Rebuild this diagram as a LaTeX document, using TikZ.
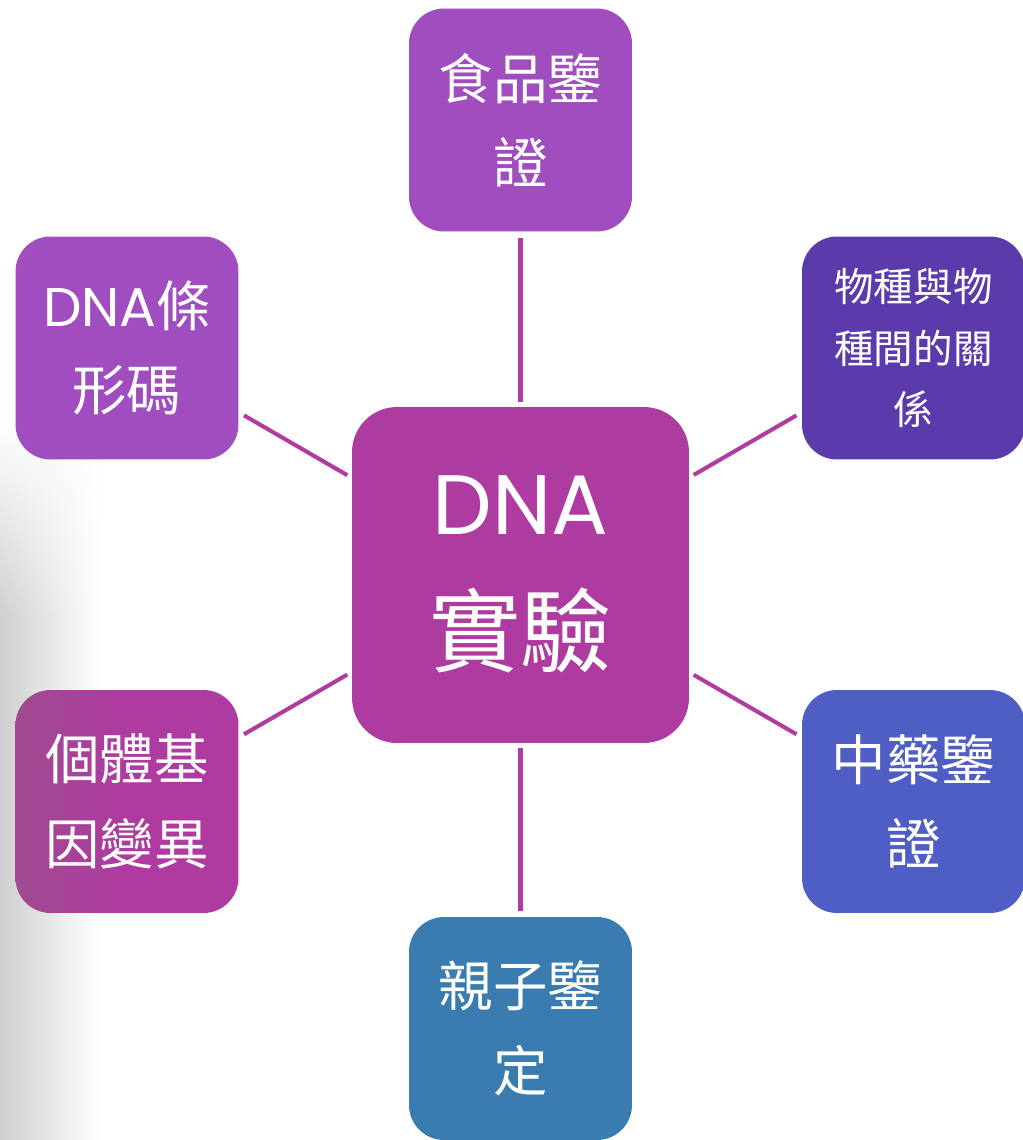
\documentclass[tikz,border=0pt]{standalone}
\usepackage{fontspec}
\setmainfont{Noto Sans CJK TC}
\newfontfamily\latinfont{Poppins}
\usetikzlibrary{fadings}
\definecolor{cTop}{RGB}{159,77,191}
\definecolor{cUL}{RGB}{159,77,191}
\definecolor{cUR}{RGB}{91,58,171}
\definecolor{cMid}{RGB}{174,59,160}
\definecolor{cLL}{RGB}{175,58,160}
\definecolor{cLLl}{RGB}{160,74,144}
\definecolor{cLR}{RGB}{79,94,196}
\definecolor{cBot}{RGB}{58,123,176}
\definecolor{cLine}{RGB}{176,60,160}
\tikzset{
  leaf/.style={rounded corners=0.7cm, minimum width=4.46cm, minimum height=4.46cm,
    text=white, align=center, inner sep=0pt, font=\fontsize{31}{48}\selectfont},
  hub/.style={rounded corners=0.9cm, minimum width=6.74cm, minimum height=6.72cm,
    text=white, align=center, inner sep=0pt, fill=cMid, font=\fontsize{52}{71}\selectfont},
  link/.style={draw=cLine, line width=2.3pt, shorten <=0.1cm, shorten >=0.12cm}
}
\begin{document}
\begin{tikzpicture}[x=0.02cm,y=-0.02cm]
\useasboundingbox (0,0) rectangle (1023,1140);
\clip (0,0) rectangle (1023,1140);
\fill[white] (0,0) rectangle (1023,1140);
% gray side band
\shade[left color=black!19, right color=white, path fading=north] (0,420) rectangle (100,620);
\shade[left color=black!19, right color=white] (0,620) rectangle (100,1140);

\node[hub] (mid) at (520.5,575) {\raisebox{0.18cm}{\begin{tabular}{@{}c@{}}{\latinfont\fontsize{48}{71}\selectfont DNA}\\[4pt]實驗\end{tabular}}};
\node[leaf, fill=cTop] (top) at (520.5,120) {食品鑒\\證};
\node[leaf, fill=cUL] (ul) at (127,348) {{\latinfont DNA}條\\形碼};
\node[leaf, fill=cUR, font=\fontsize{22.5}{35}\selectfont] (ur) at (913.5,348) {物種與物\\種間的關\\係};
\node[leaf, left color=cLLl, right color=cLL, middle color=cLL] (ll) at (127,801.5) {個體基\\因變異};
\node[leaf, fill=cLR] (lr) at (913.5,801.5) {中藥鑒\\證};
\node[leaf, fill=cBot] (bot) at (520.5,1028.5) {親子鑒\\定};

\draw[link] (mid) -- (top);
\draw[link] (mid) -- (ul);
\draw[link] (mid) -- (ur);
\draw[link] (mid) -- (ll);
\draw[link] (mid) -- (lr);
\draw[link] (mid) -- (bot);
\end{tikzpicture}
\end{document}
